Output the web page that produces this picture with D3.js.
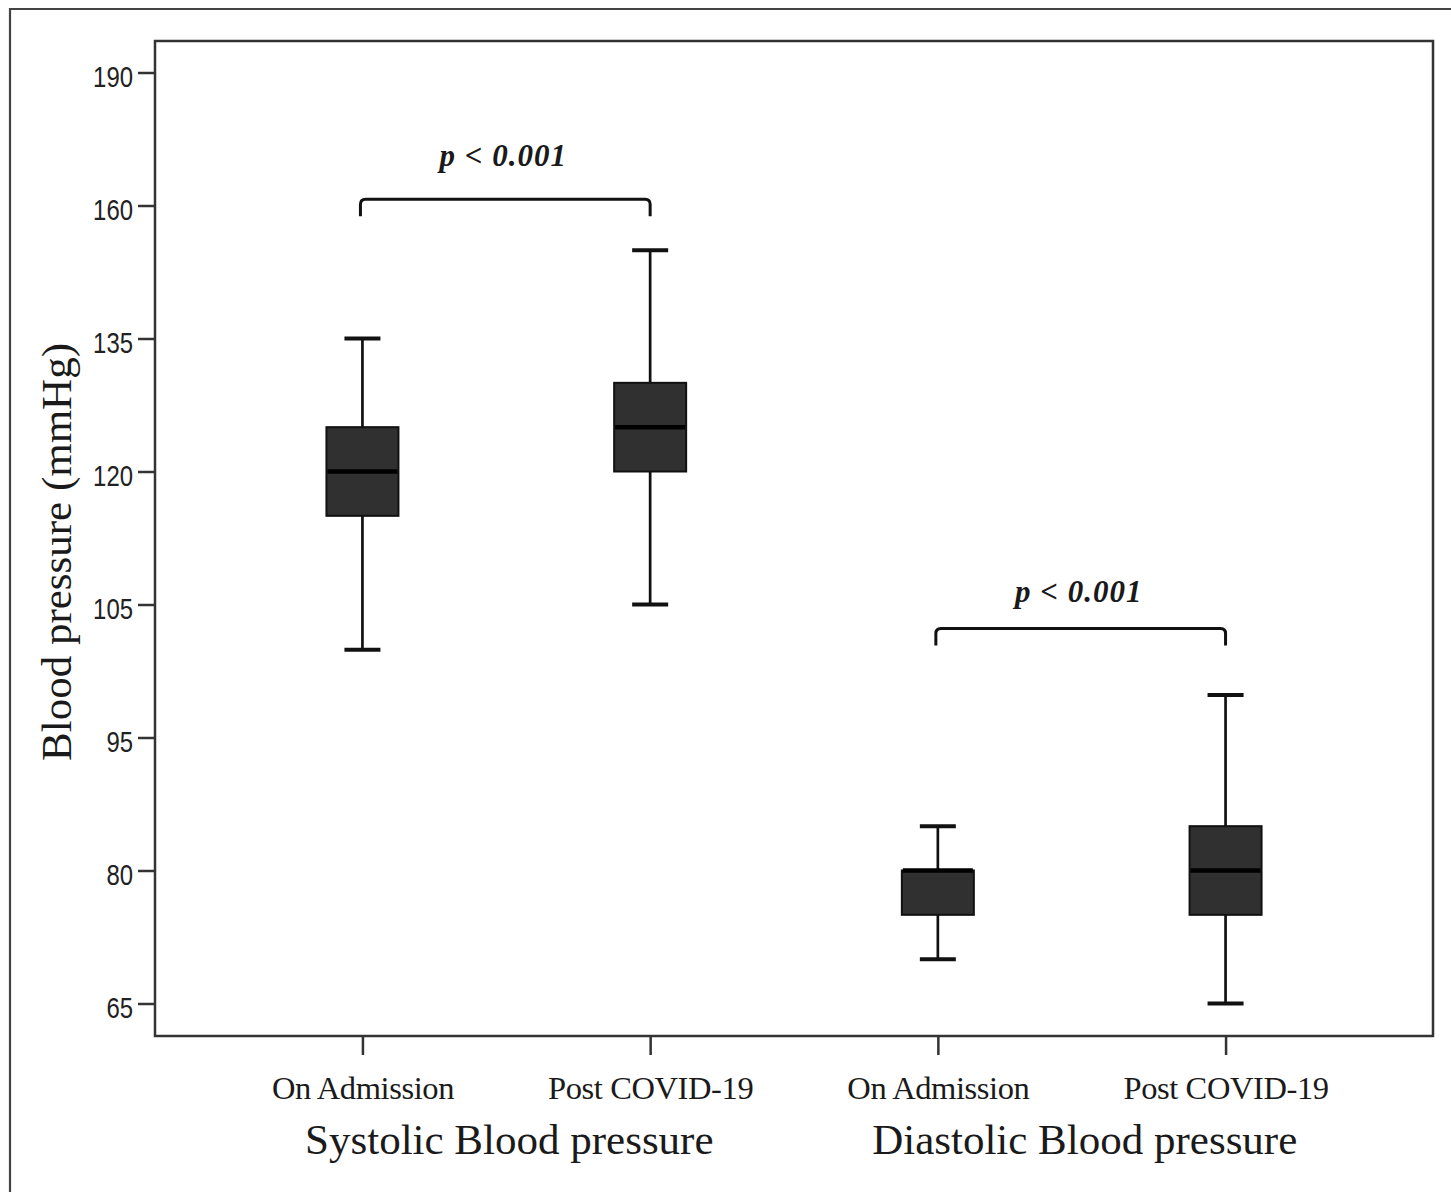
<!DOCTYPE html>
<html>
<head>
<meta charset="utf-8">
<script src="https://cdn.jsdelivr.net/npm/d3@7"></script>
<style>
    body { margin: 0; background: #fff; }
</style>
</head>
<body>
<div id="chart"></div>
<script>
// Categories, labels and box values (in the axis units)
var categories = ["sysAdm", "sysPost", "diaAdm", "diaPost"];
var catLabels = ["On Admission", "Post COVID-19", "On Admission", "Post COVID-19"];
var groupLabels = ["Systolic Blood pressure", "Diastolic Blood pressure"];
var whiskerLow = [101.6, 105, 70, 65];
var q1 = [115, 120, 75, 75];
var median = [120, 125, 80, 80];
var q3 = [125, 130, 80, 85];
var whiskerHigh = [135, 151.6, 85, 98.2];
var yTicks = [65, 80, 95, 105, 120, 135, 160, 190];
var pLabels = ["p < 0.001", "p < 0.001"];
var bracketLevel = [161.4, 103.2];
var pLabelLevel = [168.8, 105.3];

var W = 1451, H = 1192;
var margin = {top: 41, right: 18, bottom: 156, left: 155},
    width = W - margin.left - margin.right,
    height = H - margin.top - margin.bottom;

var serif = "'Liberation Serif', 'Times New Roman', serif";

var root = d3.select("#chart")
    .append("svg")
        .attr("width", W)
        .attr("height", H);

// outer frame (runs off the right and bottom edge)
root.append("path")
    .attr("d", "M10," + (H + 5) + "V9H" + (W + 5))
    .attr("fill", "none")
    .attr("stroke", "#444")
    .attr("stroke-width", 2.2);

var svg = root.append("g")
    .attr("transform", "translate(" + margin.left + "," + margin.top + ")");

// X scale
var x = d3.scalePoint()
    .domain(categories)
    .range([0, width])
    .padding(0.721);

// Y scale: the labelled ticks are evenly spaced, so map them piecewise
var step = 133;
var y = d3.scaleLinear()
    .domain(yTicks)
    .range(yTicks.map((d, i) => height - 32.5 - i * step));

// plot frame
svg.append("rect")
    .attr("x", 0).attr("y", 0)
    .attr("width", width).attr("height", height)
    .attr("fill", "none")
    .attr("stroke", "#333")
    .attr("stroke-width", 2.5);

// Y axis
var yAxis = svg.append("g")
    .call(d3.axisLeft(y).tickValues(yTicks).tickSize(17).tickPadding(5));
yAxis.select(".domain").remove();
yAxis.selectAll("line").attr("stroke", "#333").attr("stroke-width", 2.5);
// narrow digits like the original
yAxis.selectAll("text")
    .style("font-family", "'Liberation Sans', Arial, sans-serif")
    .style("font-size", "30px")
    .attr("dy", "0.47em")
    .attr("textLength", d => String(d).length * 13.3)
    .attr("lengthAdjust", "spacingAndGlyphs")
    .attr("fill", "#222");

// X axis
var xAxis = svg.append("g")
    .attr("transform", "translate(0," + height + ")")
    .call(d3.axisBottom(x).tickSize(19).tickFormat((d, i) => catLabels[i]).tickPadding(21));
xAxis.select(".domain").remove();
xAxis.selectAll("line").attr("stroke", "#333").attr("stroke-width", 2.5);
xAxis.selectAll("text")
    .style("font-family", serif)
    .style("font-size", "32.5px")
    .style("letter-spacing", "-0.4px")
    .attr("fill", "#1a1a1a");

// group labels
groupLabels.forEach(function(g, i) {
    var cx = (x(categories[i * 2]) + x(categories[i * 2 + 1])) / 2 + 3;
    svg.append("text")
        .attr("x", cx)
        .attr("y", height + 118)
        .attr("text-anchor", "middle")
        .style("font-family", serif)
        .style("font-size", "43px")
        .attr("fill", "#1a1a1a")
        .text(g);
});

// Y axis label
svg.append("text")
    .attr("transform", "translate(" + (71 - margin.left) + "," + (552 - margin.top) + ") rotate(-90)")
    .attr("text-anchor", "middle")
    .style("font-family", serif)
    .style("font-size", "43px")
    .attr("fill", "#1a1a1a")
    .text("Blood pressure (mmHg)");

// boxes
var boxW = 72, capW = 36;
var boxes = svg.append("g")
    .selectAll("g")
    .data(categories)
    .enter().append("g")
    .attr("transform", d => "translate(" + x(d) + ",0)");

// whisker stem
boxes.append("line")
    .attr("y1", (d, i) => y(whiskerLow[i]))
    .attr("y2", (d, i) => y(whiskerHigh[i]))
    .attr("stroke", "#111")
    .attr("stroke-width", 2.7);

// caps
boxes.selectAll(".cap")
    .data((d, i) => [whiskerLow[i], whiskerHigh[i]])
    .enter().append("line")
    .attr("class", "cap")
    .attr("x1", -capW / 2).attr("x2", capW / 2)
    .attr("y1", v => y(v)).attr("y2", v => y(v))
    .attr("stroke", "#111")
    .attr("stroke-width", 4);

boxes.append("rect")
    .attr("x", -boxW / 2)
    .attr("width", boxW)
    .attr("y", (d, i) => y(q3[i]))
    .attr("height", (d, i) => y(q1[i]) - y(q3[i]))
    .attr("fill", "#303030")
    .attr("stroke", "#111")
    .attr("stroke-width", 2);

boxes.append("line")
    .attr("x1", -boxW / 2 + 1).attr("x2", boxW / 2 - 1)
    .attr("y1", (d, i) => y(median[i]))
    .attr("y2", (d, i) => y(median[i]))
    .attr("stroke", "#000")
    .attr("stroke-width", 4.5);

// significance brackets
pLabels.forEach(function(p, i) {
    var x0 = x(categories[i * 2]) - 2,
        x1 = x(categories[i * 2 + 1]),
        yb = y(bracketLevel[i]),
        drop = 17, r = 5;
    svg.append("path")
        .attr("d", "M" + x0 + "," + (yb + drop) + "V" + (yb + r) +
            "Q" + x0 + "," + yb + " " + (x0 + r) + "," + yb +
            "H" + (x1 - r) +
            "Q" + x1 + "," + yb + " " + x1 + "," + (yb + r) +
            "V" + (yb + drop))
        .attr("fill", "none")
        .attr("stroke", "#111")
        .attr("stroke-width", 3);
    svg.append("text")
        .attr("x", (x0 + x1) / 2 - 2)
        .attr("y", y(pLabelLevel[i]))
        .attr("text-anchor", "middle")
        .style("font-family", serif)
        .style("font-size", "31px")
        .style("font-weight", "bold")
        .style("font-style", "italic")
        .style("letter-spacing", "1px")
        .attr("fill", "#1a1a1a")
        .text(p);
});
</script>
</body>
</html>
